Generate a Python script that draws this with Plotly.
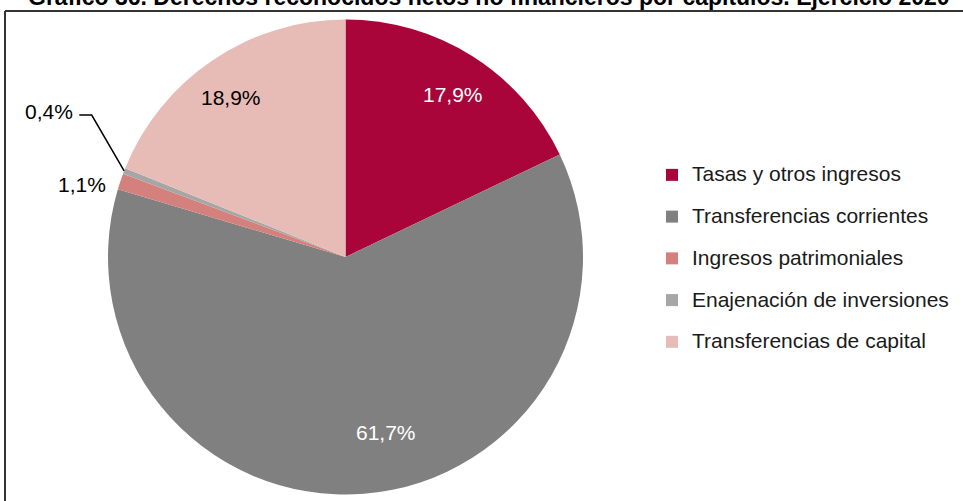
import math
import plotly.graph_objects as go

# Datos del gráfico
categorias = ['Tasas y otros ingresos', 'Transferencias corrientes', 'Ingresos patrimoniales',
              'Enajenación de inversiones', 'Transferencias de capital']
porcentajes = [17.9, 61.7, 1.1, 0.4, 18.9]
etiquetas = ['17,9%', '61,7%', '1,1%', '0,4%', '18,9%']
titulo = 'Gráfico 36. Derechos reconocidos netos no financieros por capítulos. Ejercicio 2020'

# Estilo
colores = ['#A9053A', '#808080', '#D4807D', '#A6A6A6', '#E7BBB6']
FUENTE = 'Liberation Sans, Arial, Helvetica, sans-serif'
W, H = 963, 501
CX, CY, R = 345.5, 257, 237.5

# (radio relativo, giro en grados, anclaje, color) para cada etiqueta
estilo_etiquetas = [
    (0.822, 1.2, 'center', 'white'),
    (0.76, -8.5, 'center', 'white'),
    (1.047, -1.6, 'right', 'black'),
    None,  # 0,4% va con línea guía
    (0.827, -1.7, 'center', 'black'),
]


def px(x):
    return x / W


def py(y):
    return 1 - y / H


def punto(frac, rho, giro=0.0):
    ang = 2 * math.pi * frac + math.radians(giro)
    return CX + rho * R * math.sin(ang), CY - rho * R * math.cos(ang)


total = sum(porcentajes)
medios = []
acum = 0
for v in porcentajes:
    medios.append((acum + v / 2) / total)
    acum += v

fig = go.Figure(go.Pie(
    labels=[f'<span style="font-size:21px;baseline-shift:5px">{c}</span>' for c in categorias],
    values=porcentajes,
    sort=False,
    direction='clockwise',
    rotation=0,
    textinfo='none',
    hoverinfo='skip',
    marker=dict(colors=colores, line=dict(width=0)),
    domain=dict(x=[px(CX - R), px(CX + R)], y=[py(CY + R), py(CY - R)]),
))

anots = []
for i, est in enumerate(estilo_etiquetas):
    if est is None:
        continue
    rho, giro, anc, col = est
    x, y = punto(medios[i], rho, giro)
    anots.append(dict(x=px(x), y=py(y), xref='paper', yref='paper', text=etiquetas[i],
                      showarrow=False, xanchor=anc, yanchor='middle',
                      font=dict(size=21, color=col, family=FUENTE)))

# etiqueta 0,4% con línea guía
x0, y0 = punto(medios[3], 1.0)
codo = (91.7, 115)
fin = (79.3, 115)
anots.append(dict(x=px(75), y=py(111.7), xref='paper', yref='paper', text=etiquetas[3],
                  showarrow=False, xanchor='right', yanchor='middle',
                  font=dict(size=21, color='black', family=FUENTE)))

# título (cortado en la parte superior como en el original)
anots.append(dict(x=px(489), y=py(-2.5), xref='paper', yref='paper', text=f'<b>{titulo}</b>',
                  showarrow=False, xanchor='center', yanchor='middle',
                  font=dict(size=23, color='black', family=FUENTE)))

formas = [
    dict(type='path', xref='paper', yref='paper',
         path=f'M{px(x0)},{py(y0)} L{px(codo[0])},{py(codo[1])} L{px(fin[0])},{py(fin[1])}',
         line=dict(color='black', width=1.5)),
    # marco
    dict(type='line', xref='paper', yref='paper', x0=px(5), x1=1, y0=py(11), y1=py(11),
         line=dict(color='#333333', width=2)),
    dict(type='line', xref='paper', yref='paper', x0=px(5), x1=px(5), y0=py(11), y1=0,
         line=dict(color='#333333', width=2)),
]

fig.update_layout(
    width=W, height=H,
    margin=dict(l=0, r=0, t=0, b=0),
    paper_bgcolor='white',
    plot_bgcolor='white',
    font=dict(family=FUENTE, color='#1a1a1a'),
    showlegend=True,
    legend=dict(x=px(652), y=py(149), xanchor='left', yanchor='top',
                font=dict(size=29.8, family=FUENTE, color='#1a1a1a'),
                bgcolor='rgba(0,0,0,0)', borderwidth=0),
    annotations=anots,
    shapes=formas,
)

# sin margen en el body para que la figura ocupe toda la ventana
fig.write_html('out.html', config={'displayModeBar': False},
               post_script="document.body.style.margin='0px';")
